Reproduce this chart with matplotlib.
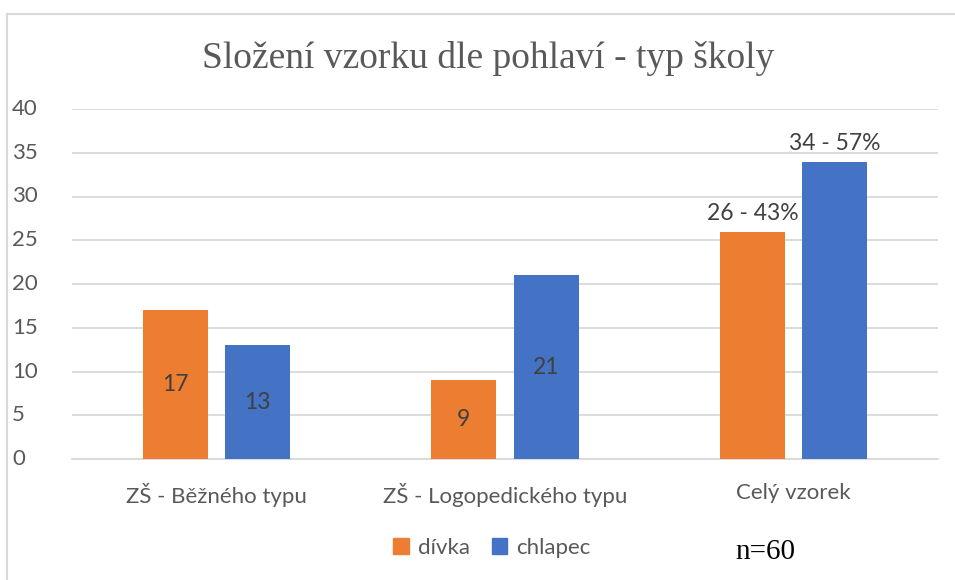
import numpy as np
import matplotlib.pyplot as plt
from matplotlib.lines import Line2D
from matplotlib.patches import Patch

categories = ['ZŠ - Běžného typu', 'ZŠ - Logopedického typu', 'Celý vzorek']
divka = [17, 9, 26]
chlapec = [13, 21, 34]
divka_labels = ['17', '9', '26 - 43%']
chlapec_labels = ['13', '21', '34 - 57%']
yticks = [0, 5, 10, 15, 20, 25, 30, 35, 40]

orange = '#ED7D31'
blue = '#4472C4'
grey = '#595959'
sans = ['Lato', 'DejaVu Sans']
serif = ['Liberation Serif', 'DejaVu Serif']

fig = plt.figure(figsize=(9.55, 5.8), dpi=100)
ax = fig.add_axes([72/955, 1 - 459/580, 866/955, 350/580])

x = np.arange(len(categories))
w = 0.225
off = 0.143
ax.bar(x - off, divka, w, color=orange, zorder=3)
ax.bar(x + off, chlapec, w, color=blue, zorder=3)

ax.set_xlim(-0.5, 2.5)
ax.set_ylim(0, 40)
ax.set_yticks(yticks)
ax.set_yticklabels([])
ax.yaxis.grid(True, color='#D9D9D9', linewidth=1.3, zorder=0)
for s in ['top', 'right', 'left']:
    ax.spines[s].set_visible(False)
ax.spines['bottom'].set_color('#D9D9D9')
ax.spines['bottom'].set_linewidth(1.3)
ax.tick_params(length=0, labelsize=16, labelcolor=grey)
ax.tick_params(axis='x', pad=17)
ax.set_xticks(x)
ax.set_xticklabels(categories)
for lab in ax.get_xticklabels():
    lab.set_family(sans)

# y tick labels, left aligned like the original
for v in yticks:
    ax.text(-60/866, v, str(v), transform=ax.get_yaxis_transform(), ha='left', va='center',
            fontsize=16, color=grey, family=sans)

# data labels: centred in first two groups, above bar in the last
for i in range(len(categories)):
    if i < 2:
        ax.text(x[i] - off, divka[i] / 2, divka_labels[i], ha='center', va='center',
                fontsize=16.5, color='#404040', family=sans, zorder=4)
        ax.text(x[i] + off, chlapec[i] / 2, chlapec_labels[i], ha='center', va='center',
                fontsize=16.5, color='#404040', family=sans, zorder=4)
    else:
        ax.text(x[i] - off, divka[i] + 0.8, divka_labels[i], ha='center', va='bottom',
                fontsize=16.5, color='#404040', family=sans, zorder=4)
        ax.text(x[i] + off, chlapec[i] + 0.8, chlapec_labels[i], ha='center', va='bottom',
                fontsize=16.5, color='#404040', family=sans, zorder=4)

fig.text(488/955, 1 - 58/580, 'Složení vzorku dle pohlaví - typ školy', ha='center', va='center',
         fontsize=27, color=grey, family=serif)

handles = [Patch(color=orange), Patch(color=blue)]
leg = fig.legend(handles, ['dívka', 'chlapec'], loc='center', bbox_to_anchor=(492/955, 1 - 548/580),
                 ncol=2, frameon=False, handlelength=0.7, handleheight=0.7, handletextpad=0.4,
                 columnspacing=1.0, prop={'family': sans, 'size': 16})
for t in leg.get_texts():
    t.set_color(grey)

fig.text(765/955, 1 - 552/580, 'n=60', ha='center', va='center', fontsize=21, color='black',
         family=serif)

# chart frame
fig.add_artist(Line2D([7/955, 1], [1 - 13.5/580, 1 - 13.5/580], color='#D9D9D9', linewidth=1.5))
fig.add_artist(Line2D([7/955, 7/955], [0, 1 - 13.5/580], color='#D9D9D9', linewidth=1.5))

fig.savefig('out.png', dpi=100)
